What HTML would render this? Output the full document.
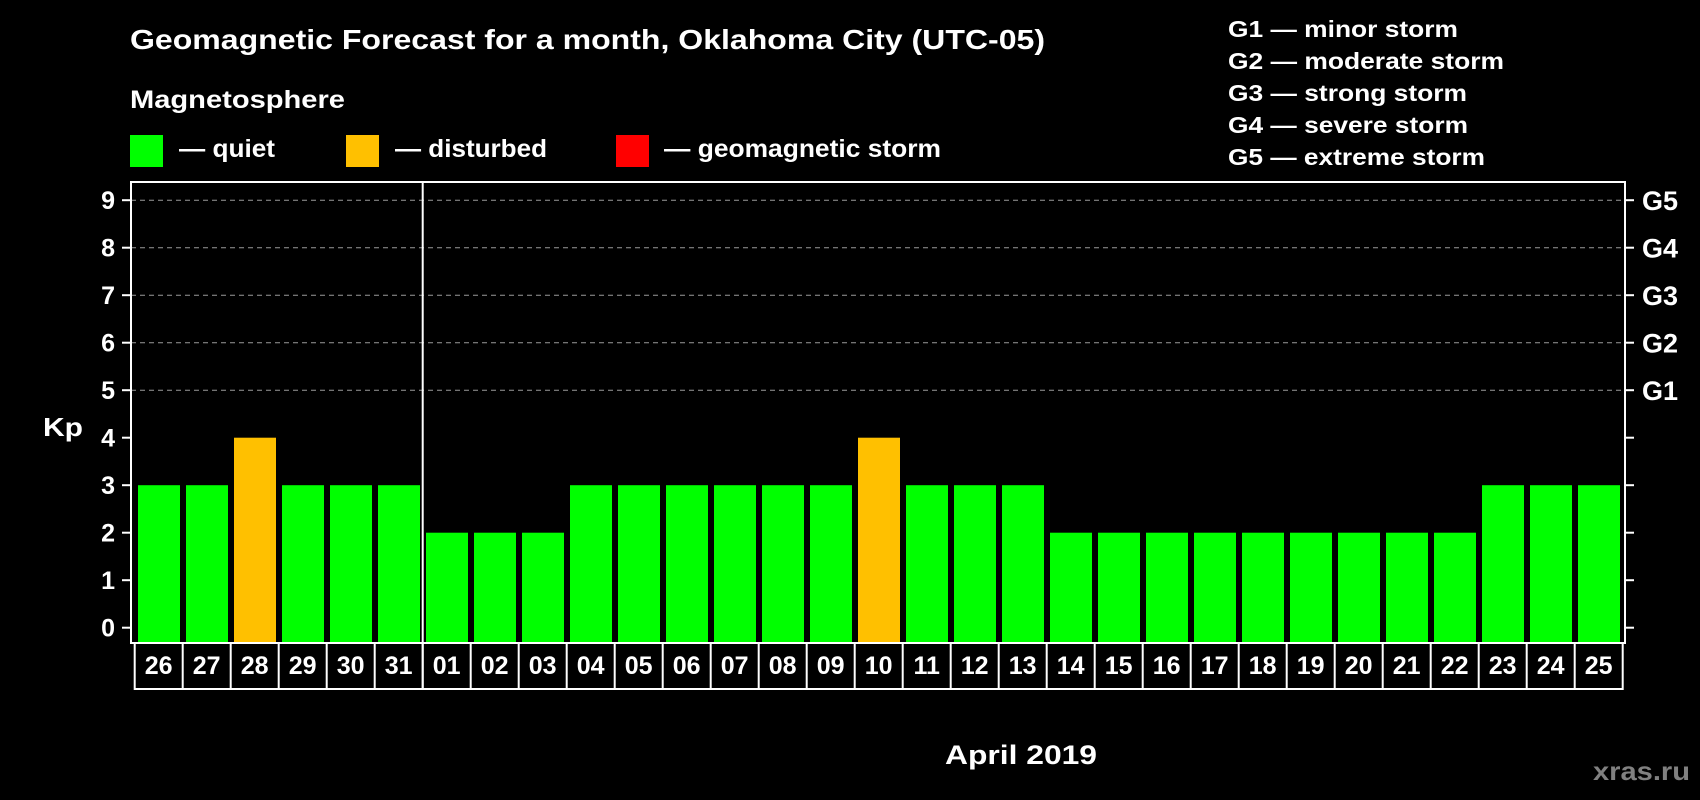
<!DOCTYPE html>
<html><head><meta charset="utf-8"><style>
html,body{margin:0;padding:0;background:#000;}
svg{display:block;font-family:"Liberation Sans",Arial,sans-serif;font-weight:bold;}
</style></head><body>
<svg id="chart" width="1700" height="800" viewBox="0 0 1700 800" xmlns="http://www.w3.org/2000/svg">
<rect x="0" y="0" width="1700" height="800" fill="#000"/>
<text x="130" y="49" fill="#fff" font-size="28" textLength="915" lengthAdjust="spacingAndGlyphs">Geomagnetic Forecast for a month, Oklahoma City (UTC-05)</text>
<text x="130" y="108" fill="#fff" font-size="25" textLength="215" lengthAdjust="spacingAndGlyphs">Magnetosphere</text>
<rect x="130" y="135" width="33" height="32" fill="#00ff00"/>
<text x="179" y="157" fill="#fff" font-size="25" textLength="96" lengthAdjust="spacingAndGlyphs">— quiet</text>
<rect x="346" y="135" width="33" height="32" fill="#ffc000"/>
<text x="395" y="157" fill="#fff" font-size="25" textLength="152" lengthAdjust="spacingAndGlyphs">— disturbed</text>
<rect x="616" y="135" width="33" height="32" fill="#ff0000"/>
<text x="664" y="157" fill="#fff" font-size="25" textLength="277" lengthAdjust="spacingAndGlyphs">— geomagnetic storm</text>
<g fill="#fff" font-size="23">
<text x="1228" y="37" textLength="230" lengthAdjust="spacingAndGlyphs">G1 — minor storm</text>
<text x="1228" y="69" textLength="276" lengthAdjust="spacingAndGlyphs">G2 — moderate storm</text>
<text x="1228" y="101" textLength="239" lengthAdjust="spacingAndGlyphs">G3 — strong storm</text>
<text x="1228" y="133" textLength="240" lengthAdjust="spacingAndGlyphs">G4 — severe storm</text>
<text x="1228" y="165" textLength="257" lengthAdjust="spacingAndGlyphs">G5 — extreme storm</text>
</g>
<text x="43" y="436" fill="#fff" font-size="26" textLength="40" lengthAdjust="spacingAndGlyphs">Kp</text>
<text x="945" y="764" fill="#fff" font-size="27" textLength="152" lengthAdjust="spacingAndGlyphs">April 2019</text>
<text x="1593" y="780" fill="#808080" font-size="26" textLength="97" lengthAdjust="spacingAndGlyphs">xras.ru</text>
<g id="grid"></g><g id="bars"></g><g id="axes"></g>
</svg>
<script>
const days = ["26","27","28","29","30","31","01","02","03","04","05","06","07","08","09","10","11","12","13","14","15","16","17","18","19","20","21","22","23","24","25"];
const kp = [3,3,4,3,3,3,2,2,2,3,3,3,3,3,3,4,3,3,3,2,2,2,2,2,2,2,2,2,3,3,3];
const yTicks = ["0","1","2","3","4","5","6","7","8","9"];
const gLabels = ["G1","G2","G3","G4","G5"];
const monthStartIndex = 6;

const NS = "http://www.w3.org/2000/svg";
const plotL = 131, plotR = 1625, plotT = 182, plotB = 643;
const y0 = 627.7, unit = 47.5;
const step = 48, barStart = 138, barW = 42, cellStart = 134.7;
function yScale(v){ return y0 - unit*v; }
function xBar(i){ return barStart + i*step; }
function xCell(i){ return cellStart + i*step; }
function mk(tag, attrs, parent){
  const e = document.createElementNS(NS, tag);
  for (const k in attrs) e.setAttribute(k, attrs[k]);
  parent.appendChild(e); return e;
}
function color(v){ return v >= 5 ? "#ff0000" : (v >= 4 ? "#ffc000" : "#00ff00"); }
const grid = document.getElementById("grid"), bars = document.getElementById("bars"), axes = document.getElementById("axes");

yTicks.forEach((t, i) => {
  const v = +t, y = yScale(v);
  if (v >= 5) {
    const g = mk("line", {x1: plotL, x2: plotR, y1: y, y2: y, stroke: "#9a9a9a", "stroke-width": 1, "stroke-dasharray": "5,4"}, grid);
    
    
  }
  const tl = mk("line", {x1: plotL - 9, x2: plotL, y1: y, y2: y, stroke: "#fff", "stroke-width": 2}, axes);
  
  
  const tr = mk("line", {x1: plotR, x2: plotR + 9, y1: y, y2: y, stroke: "#fff", "stroke-width": 2}, axes);
  
  
  const lab = mk("text", {x: 115, y: y + 9, fill: "#fff", "font-size": 25, "text-anchor": "end"}, axes);
  lab.textContent = t;
  
  
});
gLabels.forEach((g, i) => {
  const y = yScale(5 + i);
  const lab = mk("text", {x: 1642, y: y + 10, fill: "#fff", "font-size": 27}, axes);
  lab.textContent = g;
  
  
});

kp.forEach((v, i) => {
  const r = mk("rect", {x: xBar(i), y: yScale(v), width: barW, height: plotB - yScale(v), fill: color(v)}, bars);
  
  
});

const frame = mk("rect", {x: plotL, y: plotT, width: plotR - plotL, height: plotB - plotT, fill: "none", stroke: "#fff", "stroke-width": 2}, axes);



const rowT = plotB, rowB = 689;
const row = mk("rect", {x: cellStart, y: rowT, width: xCell(days.length) - cellStart, height: rowB - rowT, fill: "none", stroke: "#fff", "stroke-width": 2}, axes);


days.forEach((d, i) => {
  if (i > 0) {
    const ln = mk("line", {x1: xCell(i), x2: xCell(i), y1: rowT, y2: rowB, stroke: "#fff", "stroke-width": 2}, axes);
    
    
  }
  const t = mk("text", {x: xCell(i) + step/2, y: 674, fill: "#fff", "font-size": 25, "text-anchor": "middle"}, axes);
  t.textContent = d;
  
  
});
const md = mk("line", {x1: xCell(monthStartIndex), x2: xCell(monthStartIndex), y1: plotT, y2: rowB, stroke: "#fff", "stroke-width": 2}, axes);


</script>
</body></html>
